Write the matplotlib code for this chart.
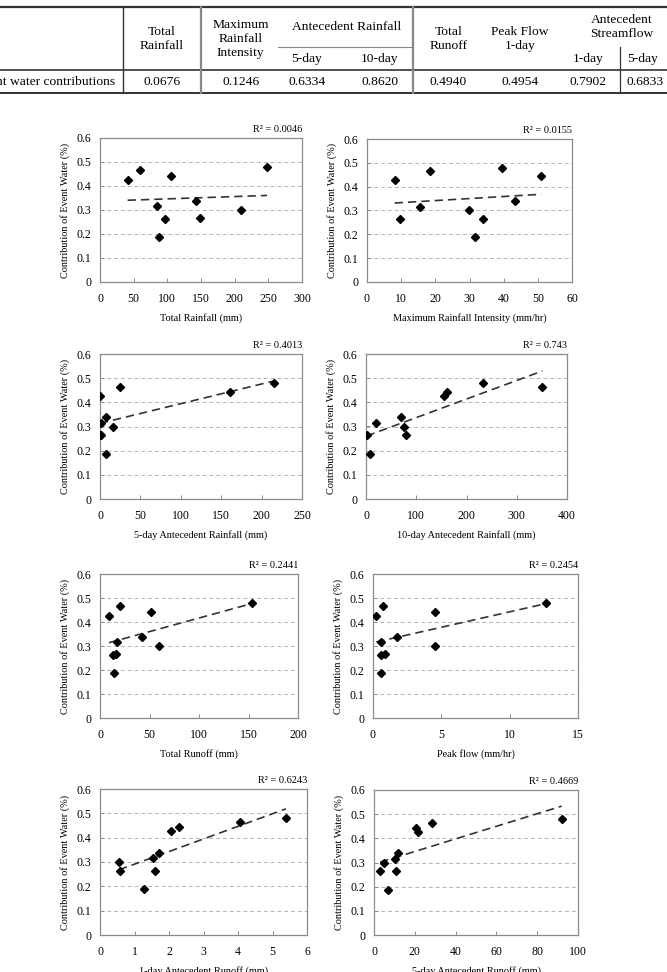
import numpy as np
import matplotlib
matplotlib.use("Agg")
import matplotlib.pyplot as plt
from matplotlib.lines import Line2D
from matplotlib.ticker import FuncFormatter, MultipleLocator

plt.rcParams['font.family'] = ['Liberation Serif', 'DejaVu Serif']

W, H = 667, 972

# ---------------- data ----------------
event_water = [0.480, 0.465, 0.443, 0.427, 0.338, 0.316, 0.300, 0.263, 0.265, 0.188]

total_rainfall = [248, 59, 106, 41, 143, 84, 210, 96, 148, 87]
max_intensity = [39.4, 18.3, 51.0, 8.1, 43.3, 15.4, 29.8, 9.6, 34.0, 31.5]
ante5_rain = [215, 24.7, 161.5, 0.4, 7, 0.8, 16.5, 0.0, 1.8, 7]
ante10_rain = [233, 351, 162, 155, 70, 19, 75, 1.3, 78.7, 7.3]
total_runoff = [154, 20.5, 51.4, 9.1, 42.7, 17.1, 59.5, 13.4, 16.1, 14.1]
peak_flow = [12.68, 0.71, 4.54, 0.24, 1.76, 0.61, 4.54, 0.56, 0.90, 0.56]
ante1_runoff = [5.39, 4.07, 2.29, 2.07, 1.72, 1.54, 0.55, 0.58, 1.58, 1.28]
ante5_runoff = [92, 28.3, 20.8, 21.8, 11.9, 10.1, 5.1, 3.1, 11.0, 7.0]

x_series = [total_rainfall, max_intensity, ante5_rain, ante10_rain,
            total_runoff, peak_flow, ante1_runoff, ante5_runoff]
x_labels = ["Total Rainfall (mm)", "Maximum Rainfall Intensity (mm/hr)",
            "5-day Antecedent Rainfall (mm)", "10-day Antecedent Rainfall (mm)",
            "Total Runoff (mm)", "Peak flow (mm/hr)",
            "1-day Antecedent Runoff (mm)", "5-day Antecedent Runoff (mm)"]
x_max = [300, 60, 250, 400, 200, 15, 6, 100]
x_step = [50, 10, 50, 100, 50, 5, 1, 20]
r2_labels = ["0.0046", "0.0155", "0.4013", "0.743", "0.2441", "0.2454", "0.6243", "0.4669"]
y_label = "Contribution of Event Water (%)"

# table
tbl_values = ["0.0676", "0.1246", "0.6334", "0.8620", "0.4940", "0.4954", "0.7902", "0.6833"]
tbl_row_label = "Event water contributions"

# ---------------- layout (pixels) ----------------
boxes = [(100, 302, 138, 282), (367, 572, 139, 282),
         (100, 302, 354, 499), (366, 567, 354, 499),
         (100, 298, 574, 718), (373, 578, 574, 718),
         (100, 307, 789, 935), (374, 578, 790, 935)]

fig = plt.figure(figsize=(W / 100, H / 100), dpi=100)
fig.patch.set_facecolor('white')

def fx(x):
    return x / W

def fy(y):
    return 1 - y / H

frame_col = '#8c8c8c'
grid_col = '#b4b4b4'
fs_tick = 8.5
fs_lab = 7.4

for i, (l, r, t, b) in enumerate(boxes):
    ax = fig.add_axes([fx(l), fy(b), (r - l) / W, (b - t) / H])
    xs = np.array(x_series[i], dtype=float)
    ys = np.array(event_water, dtype=float)
    ax.set_xlim(0, x_max[i])
    ax.set_ylim(0, 0.6)
    ax.xaxis.set_major_locator(MultipleLocator(x_step[i]))
    ax.yaxis.set_major_locator(MultipleLocator(0.1))
    ax.yaxis.set_major_formatter(FuncFormatter(lambda v, p: '0' if abs(v) < 1e-9 else f'{v:.1f}'))
    ax.xaxis.set_major_formatter(FuncFormatter(lambda v, p: f'{v:g}'))
    for yv in [0.1, 0.2, 0.3, 0.4, 0.5]:
        ax.axhline(yv, color=grid_col, lw=0.7, dashes=(4, 3), zorder=1)
    for s in ax.spines.values():
        s.set_color(frame_col)
        s.set_linewidth(0.9)
    ax.tick_params(direction='in', length=3, width=0.7, color=frame_col,
                   labelsize=fs_tick)
    ax.tick_params(axis='x', pad=8)
    ax.tick_params(axis='y', pad=6)
    # regression line
    k, c = np.polyfit(xs, ys, 1)
    xl = np.array([xs.min(), xs.max()])
    ax.plot(xl, k * xl + c, color='#333333', lw=1.2, dashes=(5, 3), zorder=2)
    ax.plot(xs, ys, linestyle='none', marker='D', ms=4.2, color='black', zorder=3)
    ax.set_xlabel(x_labels[i], fontsize=fs_lab, labelpad=6)
    ax.set_ylabel(y_label, fontsize=fs_lab, labelpad=5)
    ax.text(1.0, 1.025, "R\u00b2 = " + r2_labels[i], transform=ax.transAxes,
            ha='right', va='bottom', fontsize=fs_lab)

# ---------------- table ----------------
def hline(x0, x1, y, lw=1.0, col='#333333'):
    fig.add_artist(Line2D([fx(x0), fx(x1)], [fy(y), fy(y)], color=col, lw=lw,
                          transform=fig.transFigure))

def vline(x, y0, y1, lw=1.0, col='#333333'):
    fig.add_artist(Line2D([fx(x), fx(x)], [fy(y0), fy(y1)], color=col, lw=lw,
                          transform=fig.transFigure))

hline(0, W, 7.5, lw=1.6)
hline(0, W, 70, lw=1.2)
hline(0, W, 92.7, lw=1.4)
hline(278, 413, 46.7, lw=0.8, col='#888888')
vline(122.7, 7.5, 92.7, lw=1.0)
vline(201, 7.5, 92.7, lw=1.6, col='#888888')
vline(413.3, 7.5, 92.7, lw=1.6, col='#888888')
vline(620, 46.7, 92.7, lw=0.9)

fs_tbl = 9.7
def ttext(x, y, s, ha='center'):
    fig.text(fx(x), fy(y), s, ha=ha, va='center', fontsize=fs_tbl, linespacing=1.25)

ttext(161.7, 39, "Total\nRainfall")
ttext(240.7, 39, "Maximum\nRainfall\nIntensity")
ttext(346.5, 26.7, "Antecedent Rainfall")
ttext(307, 59.3, "5-day")
ttext(380, 59.3, "10-day")
ttext(448.3, 39, "Total\nRunoff")
ttext(520, 39, "Peak Flow\n1-day")
ttext(621.7, 27, "Antecedent\nStreamflow")
ttext(588.3, 59.3, "1-day")
ttext(643, 59.3, "5-day")

ttext(115, 81.7, tbl_row_label, ha='right')
val_x = [161.7, 240.7, 307, 380, 448.3, 520, 588.3, 645]
for xv, s in zip(val_x, tbl_values):
    ttext(xv, 81.7, s)

fig.savefig("out.png", dpi=100, facecolor='white')
